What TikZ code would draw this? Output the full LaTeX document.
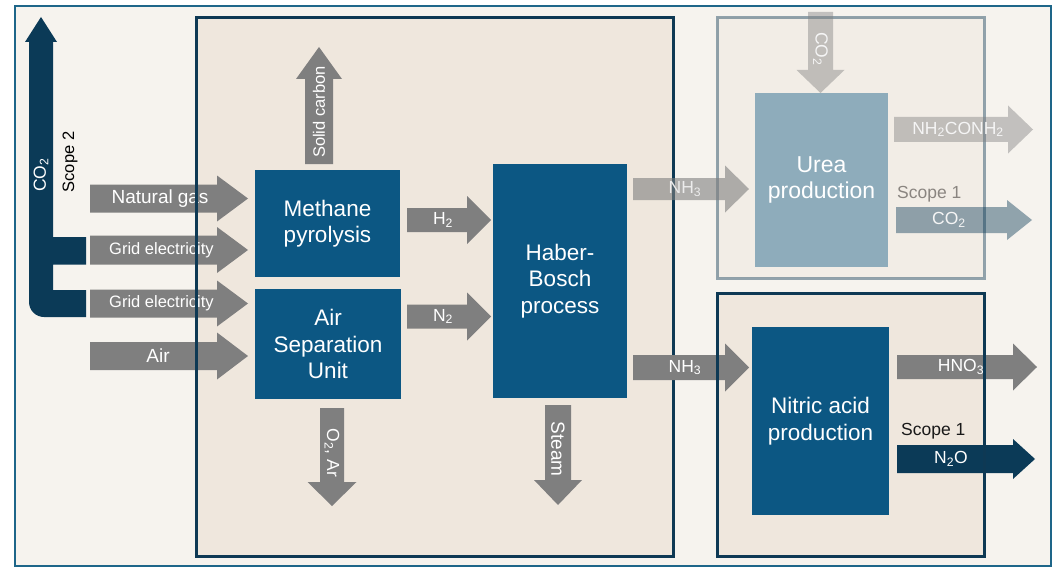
\documentclass[tikz,border=0pt]{standalone}
\usepackage{fontspec}
\setmainfont{Liberation Sans}
\definecolor{outerbg}{HTML}{F6F3EE}
\definecolor{outerline}{HTML}{1E6689}
\definecolor{boxbg}{HTML}{EFE7DD}
\definecolor{navyline}{HTML}{0E3954}
\definecolor{unitblue}{HTML}{0C5783}
\definecolor{flowgray}{HTML}{7F7F7F}
\definecolor{emitnavy}{HTML}{0B3A57}
\definecolor{fadetext}{HTML}{8A8580}
% right-pointing block arrow: style, tail x, head-base x, tip x, centre y, half shaft, half head
\newcommand\rightblock[7]{\fill[#1] (#2,#5-#6) -- (#3,#5-#6) -- (#3,#5-#7) -- (#4,#5) -- (#3,#5+#7) -- (#3,#5+#6) -- (#2,#5+#6) -- cycle;}
% vertical block arrow: style, centre x, tail y, head-base y, tip y, half shaft, half head
\newcommand\vertblock[7]{\fill[#1] (#2-#6,#3) -- (#2-#6,#4) -- (#2-#7,#4) -- (#2,#5) -- (#2+#7,#4) -- (#2+#6,#4) -- (#2+#6,#3) -- cycle;}
\begin{document}
\begin{tikzpicture}[x=1pt,y=-1pt,
  lbl/.style={text=white,inner sep=0pt,font=\fontsize{17.5}{20}\selectfont},
  biglbl/.style={text=white,inner sep=0pt,font=\fontsize{19}{21}\selectfont},
  smalllbl/.style={text=white,inner sep=0pt,font=\fontsize{16.5}{19}\selectfont},
  unit/.style={fill=unitblue,text=white,align=center,inner sep=0pt,
    font=\fontsize{22.5}{26.5}\selectfont},
  frameline/.style={draw=navyline,line width=3pt}]
\useasboundingbox (0,0) rectangle (1057,567);
\fill[white] (0,0) rectangle (1057,567);
% outer frame
\draw[outerline,line width=2pt,fill=outerbg] (15,6) rectangle (1050.5,565.5);
% plant areas
\fill[boxbg] (196,17.5) rectangle (673,556);
\fill[boxbg] (717,293.5) rectangle (984,556);
\fill[boxbg,opacity=0.43] (717,17.5) rectangle (984,278);

% process units
\node[unit,minimum width=145pt,minimum height=107pt] (mp) at (327.5,223.5) {Methane\\pyrolysis};
\node[unit,minimum width=146pt,minimum height=110pt] (asu) at (328,344) {Air\\Separation\\Unit};
\node[unit,minimum width=134pt,minimum height=234pt] (hb) at (560,281) {Haber-\\Bosch\\process};
\node[unit,minimum width=137pt,minimum height=188pt] (nap) at (820.5,421) {Nitric acid\\production};

% feed streams
\rightblock{flowgray}{90}{217}{248}{198.5}{14}{23}
\node[biglbl] (ng) at (160,198.5) {Natural\hspace{5pt}gas};
\rightblock{flowgray}{90}{217}{248}{250}{14.5}{23}
\node[smalllbl] (ge1) at (161.5,250) {Grid electricity};
\rightblock{flowgray}{90}{217}{248}{303.5}{14}{23}
\node[smalllbl] (ge2) at (161.5,303.5) {Grid electricity};
\rightblock{flowgray}{90}{217}{248}{356}{14}{23.5}
\node[biglbl] (air) at (158,356) {Air};

% intermediate streams
\rightblock{flowgray}{407}{467}{491}{220}{12}{24}
\node[lbl] (h2) at (443,220) {H\textsubscript{2}};
\rightblock{flowgray}{407}{467}{491}{316.5}{12}{24}
\node[lbl] (n2) at (443,316.5) {N\textsubscript{2}};

% by-products
\vertblock{flowgray}{319}{164}{79}{47}{14}{23}
\node[smalllbl,rotate=90] (sc) at (319,112) {Solid carbon};
\vertblock{flowgray}{332}{408}{482}{506}{12}{24.5}
\node[lbl,rotate=-90] (o2) at (332,453) {O\textsubscript{2}, Ar};
\vertblock{flowgray}{558}{405}{480}{505}{13}{24}
\node[biglbl,rotate=-90] (steam) at (558,449) {Steam};

\draw[frameline] (196,17.5) rectangle (673,556);

% ammonia to nitric acid
\rightblock{flowgray}{633}{725}{749}{367.5}{12.5}{24}
\node[lbl] (nh3b) at (685,367.5) {NH\textsubscript{3}};

% nitric acid products
\rightblock{flowgray}{897}{1013}{1037}{367}{12}{23.5}
\node[lbl] (hno3) at (961,367) {HNO\textsubscript{3}};
\node[anchor=base west,inner sep=0pt,font=\fontsize{17.5}{20}\selectfont,text=black!90] (s1b) at (901,435) {Scope 1};
\rightblock{emitnavy}{897}{1013}{1035}{459}{14}{20}
\node[lbl] (n2o) at (951,459) {N\textsubscript{2}O};

\draw[frameline] (717,293.5) rectangle (984,556);

% urea area
\draw[frameline,draw opacity=0.43] (717,17.5) rectangle (984,278);
\node[unit,fill opacity=0.43,text opacity=1,minimum width=133pt,minimum height=173pt,
  text=white,font=\fontsize{23}{26.5}\selectfont] (urea) at (821.5,180) {Urea\\production};
\vertblock{flowgray,opacity=0.43}{820.5}{12}{70}{93}{12.5}{24}
\node[lbl,rotate=-90,text=white!92!gray] (co2in) at (820.5,49) {CO\textsubscript{2}};
\rightblock{flowgray,opacity=0.43}{894}{1008}{1033}{129.5}{12.5}{24}
\node[lbl,text=white!92!gray] (uprod) at (958,129.5) {NH\textsubscript{2}CONH\textsubscript{2}};
\node[anchor=base west,inner sep=0pt,font=\fontsize{17.5}{20}\selectfont,text=fadetext] (s1a) at (897,198.5) {Scope 1};
\rightblock{emitnavy,opacity=0.43}{896}{1007}{1032}{220}{13}{20}
\node[lbl,text=white!92!gray] (co2u) at (949,220) {CO\textsubscript{2}};

% ammonia to urea
\rightblock{flowgray,opacity=0.6}{633}{725}{749}{189}{11}{23.5}
\node[lbl,text=white!85!gray] (nh3a) at (685,189) {NH\textsubscript{3}};

% scope 2 emissions from grid electricity
\fill[emitnavy] (41,17) -- (57,42) -- (53,42) -- (53,237) -- (86,237) -- (86,264.5) -- (53,264.5)
  -- (53,290) -- (86,290) -- (86,317) -- (44,317) .. controls (35.72,317) and (29,310.28) .. (29,302)
  -- (29,42) -- (25,42) -- cycle;
\node[lbl,rotate=90] (co2s2) at (41,175) {CO\textsubscript{2}};
\node[inner sep=0pt,rotate=90,font=\fontsize{16.5}{19}\selectfont,text=black] (s2) at (70,162) {Scope 2};
\end{tikzpicture}
\end{document}
